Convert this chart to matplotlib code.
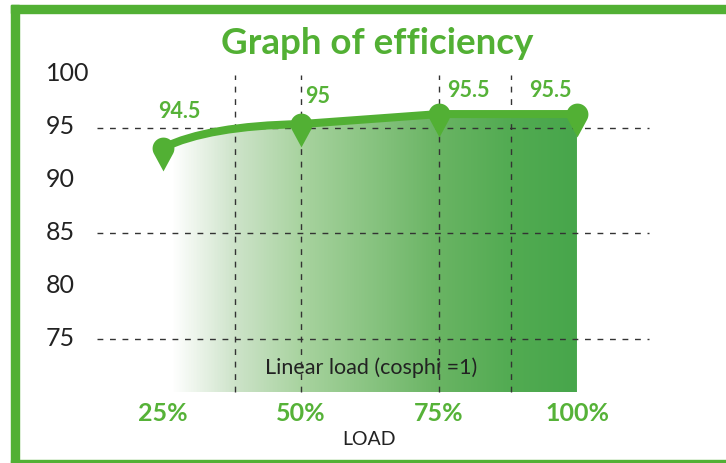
import numpy as np
import matplotlib
matplotlib.use("Agg")
import matplotlib.pyplot as plt
from matplotlib.path import Path
from matplotlib.patches import PathPatch, Rectangle
from matplotlib.colors import LinearSegmentedColormap
import matplotlib.transforms as mtransforms

plt.rcParams['font.family'] = ['Lato', 'DejaVu Sans']

# data
load = [25, 50, 75, 100]
load_labels = ['25%', '50%', '75%', '100%']
eff_drawn = [93.1, 95.35, 96.3, 96.3]       # where the points sit on the picture
eff_text = ['94.5', '95', '95.5', '95.5']    # values written next to them
label_pos_x = [27.9, 53.0, 80.3, 95.2]
label_pos_y = [96.5, 98.0, 98.5, 98.5]
y_ticks = [100, 95, 90, 85, 80, 75]
h_grid = [95, 85, 75]
v_grid = [38, 50, 75, 88]

GREEN = '#52b034'
TXT_GREEN = '#56b238'

fig = plt.figure(figsize=(7.26, 4.63), dpi=100)
ax = fig.add_axes([0.0724, 0.0164, 0.9124, 0.913])
ax.set_xlim(5, 125)
ax.set_ylim(64, 104)
ax.axis('off')

# green frame (left, top, bottom; right side runs off the image)
fig.patches.append(Rectangle((11/726, 1 - 12.5/463), 2, 7.5/463, transform=fig.transFigure,
                             color=GREEN, zorder=0))
fig.patches.append(Rectangle((11/726, 0), 8/726, 1 - 5/463, transform=fig.transFigure,
                             color=GREEN, zorder=0))
fig.patches.append(Rectangle((11/726, 0), 2, 3.5/463, transform=fig.transFigure,
                             color=GREEN, zorder=0))

# line path: curved first segment, straight after
x0, y0 = load[0], eff_drawn[0]
x1, y1 = load[1], eff_drawn[1]
dx, dy = x1 - x0, y1 - y0
verts = [(x0, y0),
         (x0 + 0.22 * dx, y0 + 0.62 * dy),
         (x0 + 0.55 * dx, y0 + 0.95 * dy),
         (x1, y1)]
codes = [Path.MOVETO, Path.CURVE4, Path.CURVE4, Path.CURVE4]
for xx, yy in zip(load[2:], eff_drawn[2:]):
    verts.append((xx, yy))
    codes.append(Path.LINETO)
line_path = Path(verts, codes)

# gradient fill under the line
fill_verts = [(load[0], 70)] + verts + [(load[-1], 70), (load[0], 70)]
fill_codes = [Path.MOVETO, Path.LINETO] + codes[1:] + [Path.LINETO, Path.CLOSEPOLY]
fill_patch = PathPatch(Path(fill_verts, fill_codes), transform=ax.transData,
                       facecolor='none', edgecolor='none')
ax.add_patch(fill_patch)
cmap = LinearSegmentedColormap.from_list('eff', [
    (0.0, '#ffffff'), (0.02, '#ffffff'), (0.173, '#cde3c9'), (0.333, '#a8d39f'),
    (0.667, '#69b463'), (0.84, '#52ab52'), (1.0, '#47a64b')])
grad = np.linspace(0, 1, 400).reshape(1, -1)
im = ax.imshow(grad, extent=[load[0], load[-1], 70, 100], aspect='auto',
               cmap=cmap, origin='lower', zorder=1, interpolation='bilinear')
im.set_clip_path(fill_patch)

# dashed grid
dash = (0, (4.2, 4.8))
for yv in h_grid:
    ax.plot([13, 113], [yv, yv], color='#333333', lw=1.0, linestyle=dash, zorder=3)
for xv in v_grid:
    ax.plot([xv, xv], [70, 100], color='#333333', lw=1.0, linestyle=dash, zorder=3)

# the efficiency line
ax.add_patch(PathPatch(line_path, facecolor='none', edgecolor=GREEN, lw=5.8,
                       capstyle='round', joinstyle='round', zorder=4))

# teardrop markers
d = 2.1
ang0 = np.arcsin(-1 / d)
theta = np.linspace(ang0, np.pi - ang0, 40)
drop = np.vstack([[0, -d], np.column_stack([np.cos(theta), np.sin(theta)]), [0, -d]])
drop_path = Path(drop, closed=True)
ax.plot(load, eff_drawn, linestyle='none', marker=drop_path, markersize=33,
        color=GREEN, markeredgewidth=0, zorder=5)

# value labels
for xx, yy, t in zip(label_pos_x, label_pos_y, eff_text):
    ax.text(xx, yy, t, color=TXT_GREEN, fontsize=15.5, fontweight='bold',
            ha='center', va='center', zorder=6)

# y labels on the left
ytrans = mtransforms.blended_transform_factory(fig.transFigure, ax.transData)
for yv in y_ticks:
    ax.text(46/726, yv + 0.1, str(yv), transform=ytrans, fontsize=18,
            color='#222222', ha='left', va='center')

# x labels
for xx, t in zip(load, load_labels):
    ax.text(xx, 68.0, t, color=TXT_GREEN, fontsize=18, fontweight='bold',
            ha='center', va='center')

ax.text(62.7, 72.3, 'Linear load (cosphi =1)', fontsize=15.5, color='#222222',
        ha='center', va='center', zorder=2)
ax.text(62.3, 65.5, 'LOAD', fontsize=14, color='#222222', ha='center', va='center')
ax.text(63.8, 103.0, 'Graph of efficiency', fontsize=26.5, fontweight='bold',
        color=GREEN, ha='center', va='center')

fig.savefig('out.png', dpi=100)
